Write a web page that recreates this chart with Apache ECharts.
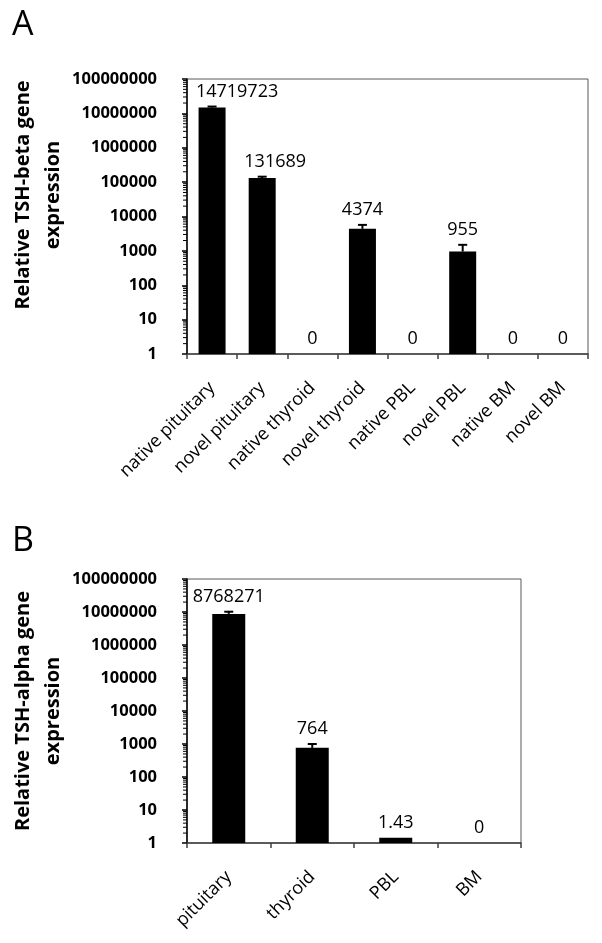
<!DOCTYPE html>
<html>
<head>
<meta charset="utf-8">
<script src="https://cdn.jsdelivr.net/npm/echarts@6/dist/echarts.min.js"></script>
<style>
html,body{margin:0;padding:0;background:#fff;}
#chart{width:602px;height:943px;}
</style>
</head>
<body>
<div id="chart"></div>
<script>
// ---- Data ----
const catsA = ['native pituitary', 'novel pituitary', 'native thyroid', 'novel thyroid', 'native PBL', 'novel PBL', 'native BM', 'novel BM'];
const valsA = [14719723, 131689, 0, 4374, 0, 955, 0, 0];
const errHighA = [15800000, 144000, 0, 5700, 0, 1500, 0, 0];

const catsB = ['pituitary', 'thyroid', 'PBL', 'BM'];
const valsB = [8768271, 764, 1.43, 0];
const errHighB = [10200000, 1000, 1.43, 0];

const yMin = 1, yMax = 100000000;

// ---- Layout / style ----
const FONT = '"Open Sans", "Liberation Sans", sans-serif';
const labelShiftA = [25, 13, 0, 0, 0, 0, 0, 0];
const labelShiftB = [0, 0, 0, 0];

const chart = echarts.init(document.getElementById('chart'), null, {renderer: 'canvas'});

function barData(vals) {
  return vals.map(v => v > 0 ? v : '-');
}
function errData(vals) {
  return vals.map((v, i) => [i, v]);
}
function minorTickData() {
  const out = [];
  for (let d = yMin; d < yMax; d *= 10) {
    for (let m = 2; m <= 9; m++) out.push([0, m * d]);
  }
  return out;
}

function makeErrRender(vals, highs, shifts, capW) {
  return function (params, api) {
    const i = api.value(0);
    const v = Math.max(vals[i], yMin);
    const hi = Math.max(highs[i], v);
    const pV = api.coord([i, v]);
    const pH = api.coord([i, hi]);
    const children = [];
    if (hi > v) {
      children.push({type: 'line', shape: {x1: pV[0], y1: pV[1], x2: pH[0], y2: pH[1]}, style: {stroke: '#000', lineWidth: 2}});
      children.push({type: 'line', shape: {x1: pH[0] - capW / 2, y1: pH[1], x2: pH[0] + capW / 2, y2: pH[1]}, style: {stroke: '#000', lineWidth: 2}});
    }
    children.push({
      type: 'text',
      x: pH[0] + shifts[i], y: pH[1] - 6,
      style: {text: String(vals[i]), fontFamily: FONT, fontSize: 18, fill: '#000', align: 'center', verticalAlign: 'bottom'}
    });
    return {type: 'group', children: children};
  };
}

function minorRender(params, api) {
  const y = api.coord([0, api.value(1)])[1];
  const x0 = params.coordSys.x;
  return {type: 'line', shape: {x1: x0 - 4, y1: y, x2: x0, y2: y}, style: {stroke: '#000', lineWidth: 1}};
}

function xAxisCfg(gi, data) {
  return {
    type: 'category', gridIndex: gi, data: data,
    axisLine: {show: true, lineStyle: {color: '#404040', width: 1.5}},
    axisTick: {show: true, length: 5, lineStyle: {color: '#404040', width: 1.5}},
    axisLabel: {rotate: 45, margin: 31, interval: 0, fontSize: 18, fontFamily: FONT, color: '#000'},
    splitLine: {show: false}
  };
}
function yAxisCfg(gi) {
  return {
    type: 'log', gridIndex: gi, logBase: 10, min: yMin, max: yMax, splitNumber: 8,
    axisLine: {show: true, lineStyle: {color: '#000', width: 1.5}},
    axisTick: {show: true, length: 5, lineStyle: {color: '#000', width: 1.5}},
    axisLabel: {fontSize: 16.5, fontWeight: 'bold', fontFamily: FONT, color: '#000', margin: 30,
      formatter: v => String(Math.round(v))},
    splitLine: {show: false}
  };
}

const option = {
  animation: false,
  backgroundColor: '#fff',
  grid: [
    {left: 187, top: 79, width: 401, height: 275, show: true, borderColor: '#595959', borderWidth: 1, containLabel: false},
    {left: 187, top: 579, width: 334, height: 264, show: true, borderColor: '#595959', borderWidth: 1, containLabel: false}
  ],
  xAxis: [xAxisCfg(0, catsA), xAxisCfg(1, catsB)],
  yAxis: [yAxisCfg(0), yAxisCfg(1)],
  graphic: [
    {type: 'text', left: 12, top: 8, style: {text: 'A', fontFamily: FONT, fontSize: 34, fill: '#000'}},
    {type: 'text', left: 12, top: 524, style: {text: 'B', fontFamily: FONT, fontSize: 34, fill: '#000'}},
    {type: 'text', x: 38, y: 195, rotation: Math.PI / 2,
      style: {text: 'Relative TSH-beta gene\nexpression', fontFamily: FONT, fontSize: 20, fontWeight: 'bold', fill: '#000', align: 'center', verticalAlign: 'middle', lineHeight: 30}},
    {type: 'text', x: 38, y: 711, rotation: Math.PI / 2,
      style: {text: 'Relative TSH-alpha gene\nexpression', fontFamily: FONT, fontSize: 20, fontWeight: 'bold', fill: '#000', align: 'center', verticalAlign: 'middle', lineHeight: 30}}
  ],
  series: [
    {type: 'bar', xAxisIndex: 0, yAxisIndex: 0, data: barData(valsA), barWidth: 27, itemStyle: {color: '#000'}},
    {type: 'custom', xAxisIndex: 0, yAxisIndex: 0, data: errData(valsA), renderItem: makeErrRender(valsA, errHighA, labelShiftA, 9), clip: false, z: 5},
    {type: 'custom', xAxisIndex: 0, yAxisIndex: 0, data: minorTickData(), renderItem: minorRender, clip: false, z: 5},
    {type: 'bar', xAxisIndex: 1, yAxisIndex: 1, data: barData(valsB), barWidth: 33, itemStyle: {color: '#000'}},
    {type: 'custom', xAxisIndex: 1, yAxisIndex: 1, data: errData(valsB), renderItem: makeErrRender(valsB, errHighB, labelShiftB, 9), clip: false, z: 5},
    {type: 'custom', xAxisIndex: 1, yAxisIndex: 1, data: minorTickData(), renderItem: minorRender, clip: false, z: 5}
  ]
};
chart.setOption(option);
</script>
</body>
</html>
